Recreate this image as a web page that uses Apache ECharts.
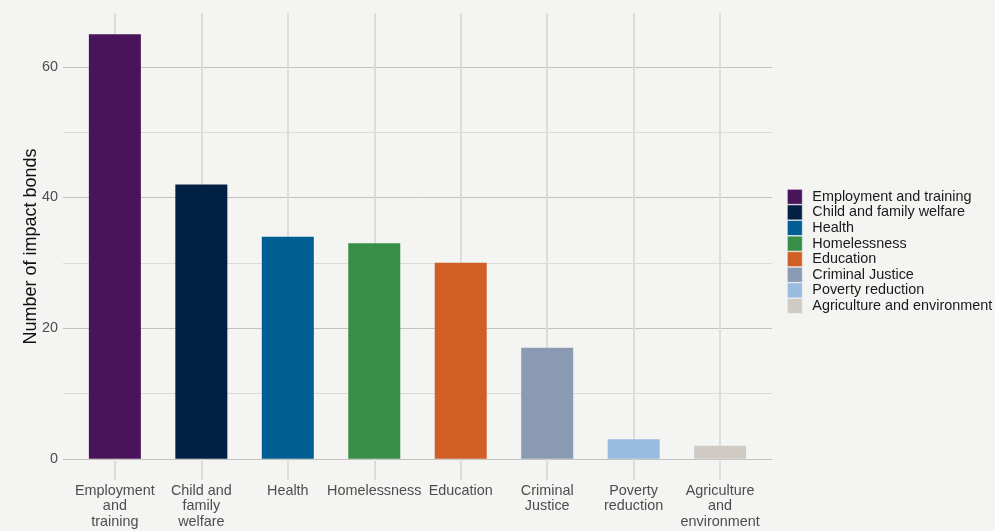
<!DOCTYPE html>
<html>
<head>
<meta charset="utf-8">
<script src="https://cdn.jsdelivr.net/npm/echarts@6/dist/echarts.min.js"></script>
<style>
  html, body { margin: 0; padding: 0; background: #f4f4f2; }
  #chart { width: 995px; height: 531px; }
</style>
</head>
<body>
<div id="chart"></div>
<script>
// Impact bonds by policy area
const categories = [
  'Employment and training',
  'Child and family welfare',
  'Health',
  'Homelessness',
  'Education',
  'Criminal Justice',
  'Poverty reduction',
  'Agriculture and environment'
];
const tickLabels = [
  'Employment\nand\ntraining',
  'Child and\nfamily\nwelfare',
  'Health',
  'Homelessness',
  'Education',
  'Criminal\nJustice',
  'Poverty\nreduction',
  'Agriculture\nand\nenvironment'
];
const bondCounts = [65, 42, 34, 33, 30, 17, 3, 2];
const barColors = ['#4a145b', '#012043', '#015e93', '#388d49', '#d05f26', '#8a9ab3', '#98bcdf', '#cfcac4'];
const majorTicks = [0, 20, 40, 60];
const minorTicks = [10, 30, 50];
const categoryPositions = [0, 1, 2, 3, 4, 5, 6, 7];

const font = '"Liberation Sans", Arial, Helvetica, sans-serif';
const chart = echarts.init(document.getElementById('chart'), null, { renderer: 'canvas' });

const series = categories.map((name, i) => ({
  name: name,
  type: 'bar',
  stack: 'bonds',
  barWidth: 52,
  yAxisIndex: 0,
  itemStyle: { color: barColors[i] },
  emphasis: { disabled: true },
  data: [[categoryPositions[i], bondCounts[i]]]
}));

chart.setOption({
  backgroundColor: '#f4f4f2',
  animation: false,
  textStyle: { fontFamily: font },
  grid: { left: 63, right: 223, top: 13, bottom: 51, containLabel: false },
  legend: {
    orient: 'vertical',
    left: 787,
    top: 189,
    padding: 0,
    itemWidth: 15,
    itemHeight: 15,
    itemGap: 0,
    icon: 'rect',
    data: categories,
    textStyle: { fontFamily: font, fontSize: 14.4, lineHeight: 15, color: '#1a1a1a', padding: [0, 0, 0, 5] },
    itemStyle: { borderColor: '#f4f4f2', borderWidth: 0.6 }
  },
  xAxis: {
    type: 'value',
    min: -0.6,
    max: 7.6,
    axisLine: { show: false },
    axisTick: { show: false, customValues: categoryPositions },
    axisLabel: {
      customValues: categoryPositions,
      formatter: v => tickLabels[Math.round(v)],
      fontFamily: font,
      fontSize: 14.4,
      lineHeight: 15.5,
      color: '#4d4d4d',
      margin: 3,
      verticalAlign: 'top'
    },
    splitLine: { show: true, lineStyle: { color: '#dcdcda', width: 2 } }
  },
  yAxis: [
    {
      type: 'value',
      min: -3.25,
      max: 68.25,
      name: 'Number of impact bonds',
      nameLocation: 'middle',
      nameGap: 23,
      nameMoveOverlap: false,
      nameTextStyle: { fontFamily: font, fontSize: 18, color: '#111' },
      axisLine: { show: false },
      axisTick: { show: false, customValues: majorTicks },
      axisLabel: {
        customValues: majorTicks,
        fontFamily: font,
        fontSize: 14.4,
        color: '#4d4d4d',
        margin: 5
      },
      splitLine: { show: true, lineStyle: { color: '#c2c2c0', width: 1 } }
    },
    {
      type: 'value',
      min: -3.25,
      max: 68.25,
      axisLine: { show: false },
      axisTick: { show: false, customValues: minorTicks },
      axisLabel: { show: false, customValues: minorTicks },
      splitLine: { show: true, lineStyle: { color: '#dadad8', width: 1 } }
    }
  ],
  series: series
});
</script>
</body>
</html>
